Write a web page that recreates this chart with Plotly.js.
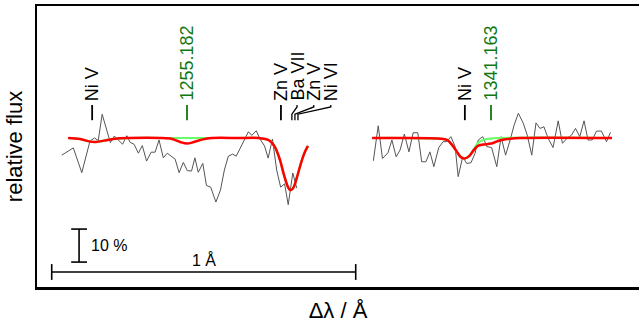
<!DOCTYPE html>
<html>
<head>
<meta charset="utf-8">
<script src="https://cdn.plot.ly/plotly-3.0.1.min.js"></script>
<style>
  html, body { margin: 0; padding: 0; background: #fff; overflow: hidden; }
  #chart { width: 639px; height: 324px; }
</style>
</head>
<body>
<div id="chart"></div>
<script>
// Two spectral windows, centred on the identified lines and placed side by side.
const windowCenters = [1255.182, 1341.163];   // Å
const windowOffsets = [0.0, 1.0];              // horizontal placement of each window (Å)

// Window 1: observed spectrum (Δλ relative to 1255.182 Å, normalised flux)
const obs1Dl = [-0.412,-0.374,-0.346,-0.319,-0.304,-0.292,-0.279,-0.252,-0.239,-0.226,-0.212,-0.198,
  -0.187,-0.174,-0.160,-0.147,-0.133,-0.118,-0.105,-0.092,-0.078,-0.065,-0.050,-0.039,-0.026,-0.012,
  0.001,0.015,0.026,0.037,0.052,0.064,0.078,0.095,0.110,0.123,0.136,0.150,0.162,0.177,0.188,0.202,
  0.213,0.228,0.240,0.255,0.267,0.281,0.295,0.308,0.321,0.333,0.348,0.361];
const obs1Flux = [0.948,0.970,0.895,0.991,1.000,0.992,1.072,0.986,1.006,0.994,0.981,1.007,
  0.987,0.981,0.954,0.977,0.930,0.957,0.957,0.994,0.940,0.954,0.943,0.936,0.895,0.926,
  0.901,0.900,0.940,0.896,0.923,0.856,0.851,0.806,0.842,0.903,0.945,0.951,0.945,0.972,0.994,1.019,
  1.008,1.022,0.997,0.976,0.939,0.997,0.903,0.851,0.861,0.798,0.894,0.848];

// Window 1: model with all lines (red) and without the 1255.182 Å line (green)
const mod1Dl = [-0.391,-0.352,-0.319,-0.299,-0.273,-0.237,-0.188,-0.089,-0.049,-0.023,0.000,0.023,
  0.049,0.082,0.174,0.234,0.257,0.273,0.289,0.306,0.319,0.332,0.339,0.349,0.362,0.375,0.388,0.398];
const mod1Flux = [1.000,0.997,0.989,0.988,0.992,0.998,1.000,1.000,0.997,0.988,0.983,0.988,
  0.995,1.000,1.000,1.000,0.997,0.991,0.973,0.933,0.888,0.852,0.842,0.848,0.882,0.924,0.958,0.976];
const alt1Dl = [-0.391,-0.352,-0.319,-0.299,-0.273,-0.237,-0.188,-0.089,0.000,0.082,0.174,0.234,
  0.257,0.273,0.289,0.306,0.319,0.332,0.339,0.349,0.362,0.375,0.388,0.398];
const alt1Flux = [1.000,0.997,0.989,0.988,0.992,0.998,1.000,1.000,1.000,1.000,1.000,1.000,
  0.997,0.991,0.973,0.933,0.888,0.852,0.842,0.848,0.882,0.924,0.958,0.976];

// Window 2: observed spectrum (Δλ relative to 1341.163 Å)
const obs2Dl = [-0.387,-0.371,-0.357,-0.339,-0.326,-0.312,-0.299,-0.285,-0.270,-0.256,-0.241,-0.228,
  -0.214,-0.201,-0.188,-0.172,-0.157,-0.146,-0.132,-0.118,-0.108,-0.093,-0.080,-0.066,-0.053,-0.042,
  -0.027,-0.014,0.002,0.019,0.033,0.048,0.063,0.076,0.090,0.106,0.119,0.134,0.148,0.161,0.174,0.188,
  0.204,0.221,0.235,0.250,0.265,0.278,0.292,0.306,0.319,0.333,0.347,0.363,0.380,0.393];
const obs2Flux = [0.931,1.037,0.938,0.955,0.994,0.943,0.964,1.012,0.958,1.016,1.016,0.928,
  0.928,0.958,0.913,0.971,0.989,0.989,1.004,0.974,0.883,0.943,0.923,0.925,0.952,0.994,
  1.004,0.974,0.971,0.913,1.004,0.948,0.994,1.039,1.075,1.045,1.009,0.948,1.046,1.029,1.034,0.999,
  0.971,1.052,0.984,0.999,1.009,1.029,1.004,1.052,0.994,0.994,1.021,1.021,0.989,1.017];

// Window 2: model with all lines (red) and without the 1341.163 Å line (green)
const mod2Dl = [-0.391,-0.299,-0.168,-0.145,-0.128,-0.112,-0.099,-0.086,-0.072,-0.056,-0.043,-0.026,
  -0.010,0.007,0.023,0.039,0.063,0.095,0.398];
const mod2Flux = [1.000,1.000,0.998,0.994,0.979,0.958,0.942,0.938,0.945,0.964,0.976,0.980,
  0.982,0.985,0.991,0.995,0.998,1.000,1.000];
const alt2Dl = [-0.391,-0.299,-0.168,-0.145,-0.128,-0.112,-0.099,-0.086,-0.072,-0.056,-0.043,-0.026,
  -0.003,0.030,0.398];
const alt2Flux = [1.000,1.000,0.998,0.994,0.979,0.958,0.942,0.938,0.945,0.967,0.985,0.994,
  0.998,1.000,1.000];

// Line identifications: window index, wavelength (Å), label, colour, label shift (Å)
const lineWindow = [0, 0, 0, 0, 0, 0, 1, 1];
const lineLambda = [1254.870, 1255.182, 1255.491, 1255.527, 1255.537, 1255.547, 1341.077, 1341.163];
const lineLabel  = ['Ni V', '1255.182', 'Zn V', 'Ba VII', 'Zn V', 'Ni VI', 'Ni V', '1341.163'];
const lineColor  = ['#000000', '#117711', '#000000', '#000000', '#000000', '#000000', '#000000', '#117711'];
const labelShift = [0, 0, 0, 0.017, 0.062, 0.108, 0, 0];

// Scale bars
const fluxBar = 0.10;     // 10 %
const lambdaBar = 1.0;    // 1 Å

const FONT = 'Liberation Sans, Arial, Helvetica, sans-serif';

function shift(arr, w) { return arr.map(v => v + windowOffsets[w]); }

const traces = [];
const obsSets = [[obs1Dl, obs1Flux], [obs2Dl, obs2Flux]];
const altSets = [[alt1Dl, alt1Flux], [alt2Dl, alt2Flux]];
const modSets = [[mod1Dl, mod1Flux], [mod2Dl, mod2Flux]];
[0, 1].forEach(w => {
  traces.push({ x: shift(obsSets[w][0], w), y: obsSets[w][1], mode: 'lines',
    line: { color: '#555555', width: 1 }, hoverinfo: 'skip', showlegend: false });
});
[0, 1].forEach(w => {
  traces.push({ x: shift(altSets[w][0], w), y: altSets[w][1], mode: 'lines',
    line: { color: '#66ff66', width: 2.2, shape: 'spline', smoothing: 1 }, hoverinfo: 'skip', showlegend: false });
});
[0, 1].forEach(w => {
  traces.push({ x: shift(modSets[w][0], w), y: modSets[w][1], mode: 'lines',
    line: { color: '#ff0000', width: 2.5, shape: 'spline', smoothing: 1 }, hoverinfo: 'skip', showlegend: false });
});

// Marker ticks, leaders and rotated labels
const tickLow = 1.054, tickHigh = 1.100, bendLow = 1.072, bendHigh = 1.094, labelBase = 1.106;
const shapes = [];
const annotations = [];
lineLambda.forEach((lam, i) => {
  const w = lineWindow[i];
  const x = lam - windowCenters[w] + windowOffsets[w];
  const xl = x + labelShift[i];
  if (labelShift[i] === 0) {
    shapes.push({ type: 'line', xref: 'x', yref: 'y', x0: x, x1: x, y0: tickLow, y1: tickHigh,
      line: { color: lineColor[i], width: 1.8 } });
  } else {
    shapes.push({ type: 'path', xref: 'x', yref: 'y',
      path: `M ${x} ${tickLow} L ${x} ${bendLow} L ${xl} ${bendHigh} L ${xl} ${tickHigh}`,
      line: { color: lineColor[i], width: 1.3 } });
  }
  annotations.push({ x: xl, y: labelBase, xref: 'x', yref: 'y', text: lineLabel[i], showarrow: false,
    textangle: -90, xanchor: 'center', yanchor: 'bottom',
    font: { family: FONT, size: 18, color: lineColor[i] } });
});

// 10 % flux bar
const fbX = -0.355, fbY0 = 0.624, capW = 0.026;
shapes.push({ type: 'line', x0: fbX, x1: fbX, y0: fbY0, y1: fbY0 + fluxBar, line: { color: '#000', width: 1.6 } });
shapes.push({ type: 'line', x0: fbX - capW, x1: fbX + capW, y0: fbY0, y1: fbY0, line: { color: '#000', width: 1.6 } });
shapes.push({ type: 'line', x0: fbX - capW, x1: fbX + capW, y0: fbY0 + fluxBar, y1: fbY0 + fluxBar, line: { color: '#000', width: 1.6 } });
annotations.push({ x: fbX + 0.034, y: fbY0 + fluxBar / 2, text: '10 %', showarrow: false,
  xanchor: 'left', yanchor: 'middle', font: { family: FONT, size: 16, color: '#000' } });

// 1 Å wavelength bar
const lbX0 = -0.445, lbY = 0.594, capH = 0.024;
shapes.push({ type: 'line', x0: lbX0, x1: lbX0 + lambdaBar, y0: lbY, y1: lbY, line: { color: '#000', width: 1.6 } });
shapes.push({ type: 'line', x0: lbX0, x1: lbX0, y0: lbY - capH, y1: lbY + capH, line: { color: '#000', width: 1.6 } });
shapes.push({ type: 'line', x0: lbX0 + lambdaBar, x1: lbX0 + lambdaBar, y0: lbY - capH, y1: lbY + capH, line: { color: '#000', width: 1.6 } });
annotations.push({ x: lbX0 + lambdaBar / 2, y: lbY + 0.002, text: '1 Å', showarrow: false,
  xanchor: 'center', yanchor: 'bottom', font: { family: FONT, size: 16, color: '#000' } });

const layout = {
  width: 639, height: 324,
  margin: { l: 37, r: 0, t: 6, b: 37 },
  paper_bgcolor: '#fff', plot_bgcolor: '#fff',
  font: { family: FONT, color: '#000' },
  xaxis: {
    range: [-0.4934, 1.4868], showgrid: false, zeroline: false, showticklabels: false, ticks: '',
    showline: true, mirror: true, linecolor: '#000', linewidth: 2.5,
    title: { text: 'Δλ / Å', font: { family: FONT, size: 22, color: '#000' }, standoff: 14 }
  },
  yaxis: {
    range: [0.5485, 1.4], showgrid: false, zeroline: false, showticklabels: false, ticks: '',
    showline: true, mirror: false, linecolor: '#000', linewidth: 2.5,
    title: { text: 'relative flux', font: { family: FONT, size: 22, color: '#000' }, standoff: 6 }
  },
  shapes: shapes,
  annotations: annotations
};

Plotly.newPlot('chart', traces, layout, { displayModeBar: false, staticPlot: true });
</script>
</body>
</html>
